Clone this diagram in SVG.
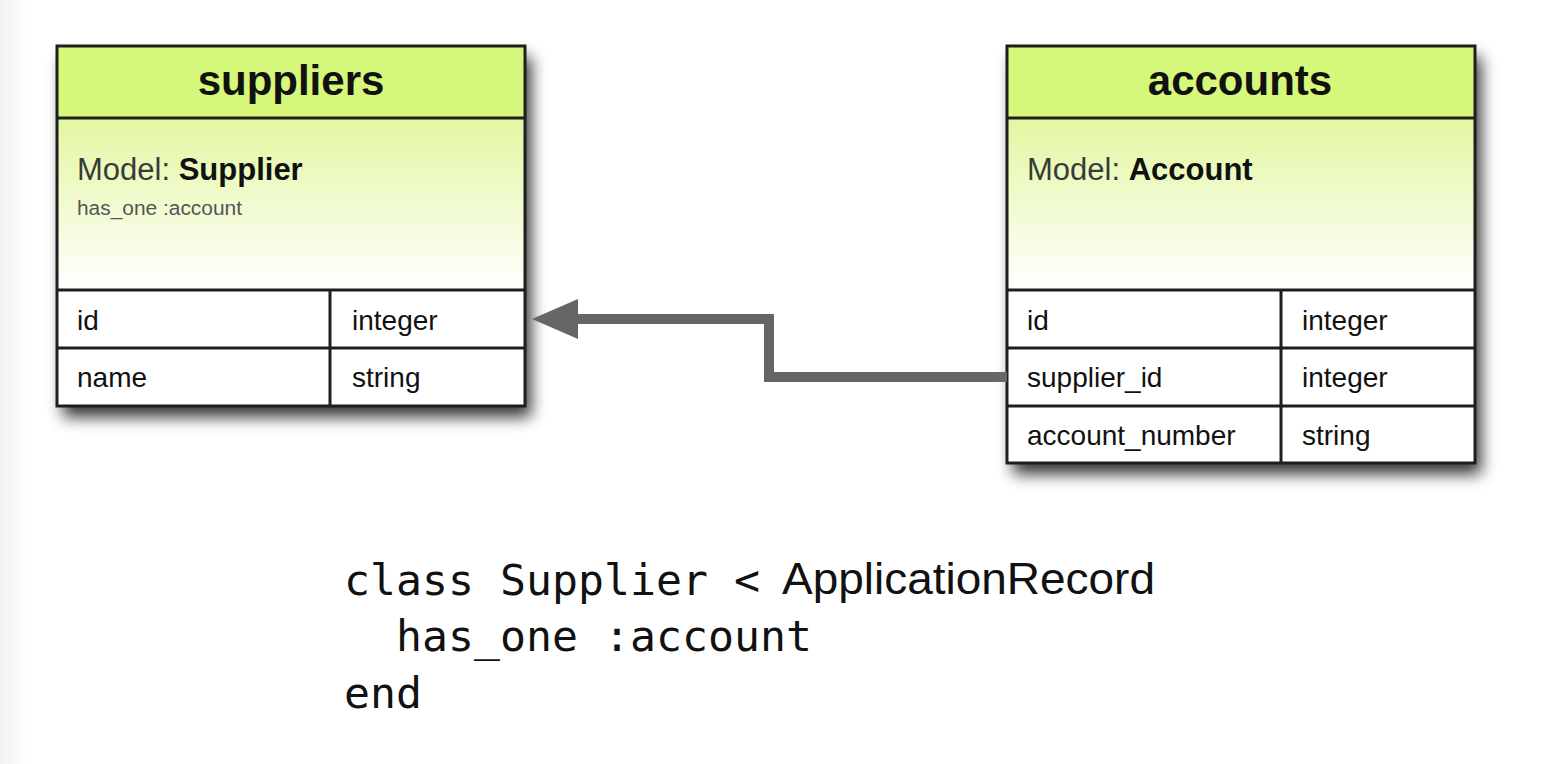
<svg xmlns="http://www.w3.org/2000/svg" width="1556" height="764" viewBox="0 0 1556 764">
  <defs>
    <linearGradient id="bodyGrad" x1="0" y1="0" x2="0" y2="1">
      <stop offset="0" stop-color="#e2f7a0"/>
      <stop offset="1" stop-color="#ffffff"/>
    </linearGradient>
    <linearGradient id="edgeGrad" x1="0" y1="0" x2="1" y2="0">
      <stop offset="0" stop-color="#f2f2f2"/>
      <stop offset="1" stop-color="#ffffff"/>
    </linearGradient>
    <filter id="shadow" x="-10%" y="-10%" width="125%" height="130%">
      <feGaussianBlur in="SourceAlpha" stdDeviation="8"/>
      <feOffset dx="6" dy="11" result="b"/>
      <feComponentTransfer><feFuncA type="linear" slope="0.8"/></feComponentTransfer>
      <feMerge><feMergeNode/><feMergeNode in="SourceGraphic"/></feMerge>
    </filter>
  </defs>
  <style>
    .hdr { fill: #d5f77a; }
    .body { fill: url(#bodyGrad); }
    .row { fill: #ffffff; }
    .line { stroke: #1e1e1e; stroke-width: 3; fill: none; }
    .title { font-family: "Liberation Sans", Arial, sans-serif; font-weight: bold; font-size: 42px; fill: #111; text-anchor: middle; }
    .model { font-family: "Liberation Sans", Arial, sans-serif; font-size: 31px; fill: #3a3a3a; }
    .model tspan.b { font-weight: bold; fill: #111; }
    .assoc { font-family: "Liberation Sans", Arial, sans-serif; font-size: 20px; fill: #555; }
    .cell { font-family: "Liberation Sans", Arial, sans-serif; font-size: 28px; fill: #111; }
    .mono { font-family: "DejaVu Sans Mono", monospace; font-size: 43px; fill: #111; }
    .prop { font-family: "Liberation Sans", Arial, sans-serif; font-size: 45px; fill: #111; }
    .conn { stroke: #666666; stroke-width: 10; fill: none; stroke-linejoin: miter; }
    .head { fill: #666666; }
  </style>
  <rect x="0" y="0" width="1556" height="764" fill="#ffffff"/>
  <rect x="0" y="0" width="28" height="764" fill="url(#edgeGrad)"/>

  <g id="suppliers">
    <g filter="url(#shadow)">
      <rect x="57" y="46" width="468" height="360" fill="#ffffff"/>
    </g>
    <rect class="hdr" x="57" y="46" width="468" height="72"/>
    <rect class="body" x="57" y="118" width="468" height="172"/>
    <rect class="row" x="57" y="290" width="468" height="116"/>
    <rect class="line" x="57" y="46" width="468" height="360"/>
    <path class="line" d="M57 118 H525 M57 290 H525 M57 348 H525 M330 290 V406"/>
    <text class="title" x="291" y="95">suppliers</text>
    <text class="model" x="77" y="180">Model: <tspan class="b">Supplier</tspan></text>
    <text class="assoc" x="77" y="215" textLength="165" lengthAdjust="spacingAndGlyphs">has_one :account</text>
    <text class="cell" x="77" y="330">id</text>
    <text class="cell" x="352" y="330">integer</text>
    <text class="cell" x="77" y="387">name</text>
    <text class="cell" x="352" y="387">string</text>
  </g>

  <g id="accounts">
    <g filter="url(#shadow)">
      <rect x="1007" y="46" width="468" height="417" fill="#ffffff"/>
    </g>
    <rect class="hdr" x="1007" y="46" width="468" height="72"/>
    <rect class="body" x="1007" y="118" width="468" height="172"/>
    <rect class="row" x="1007" y="290" width="468" height="173"/>
    <rect class="line" x="1007" y="46" width="468" height="417"/>
    <path class="line" d="M1007 118 H1475 M1007 290 H1475 M1007 348 H1475 M1007 406 H1475 M1281 290 V463"/>
    <text class="title" x="1240" y="95">accounts</text>
    <text class="model" x="1027" y="180">Model: <tspan class="b">Account</tspan></text>
    <text class="cell" x="1027" y="330">id</text>
    <text class="cell" x="1302" y="330">integer</text>
    <text class="cell" x="1027" y="387">supplier_id</text>
    <text class="cell" x="1302" y="387">integer</text>
    <text class="cell" x="1027" y="445">account_number</text>
    <text class="cell" x="1302" y="445">string</text>
  </g>

  <g id="connectors">
    <path class="conn" d="M1007 377 H769 V319 H574"/>
    <polygon class="head" points="532,319 578,299 578,339"/>
  </g>

  <g id="code">
    <text class="mono" x="344" y="595" textLength="416" lengthAdjust="spacingAndGlyphs">class Supplier &lt;</text>
    <text class="prop" x="782" y="594" textLength="373" lengthAdjust="spacingAndGlyphs">ApplicationRecord</text>
    <text class="mono" x="396" y="651" textLength="416" lengthAdjust="spacingAndGlyphs">has_one :account</text>
    <text class="mono" x="344" y="708" textLength="78" lengthAdjust="spacingAndGlyphs">end</text>
  </g>
</svg>
